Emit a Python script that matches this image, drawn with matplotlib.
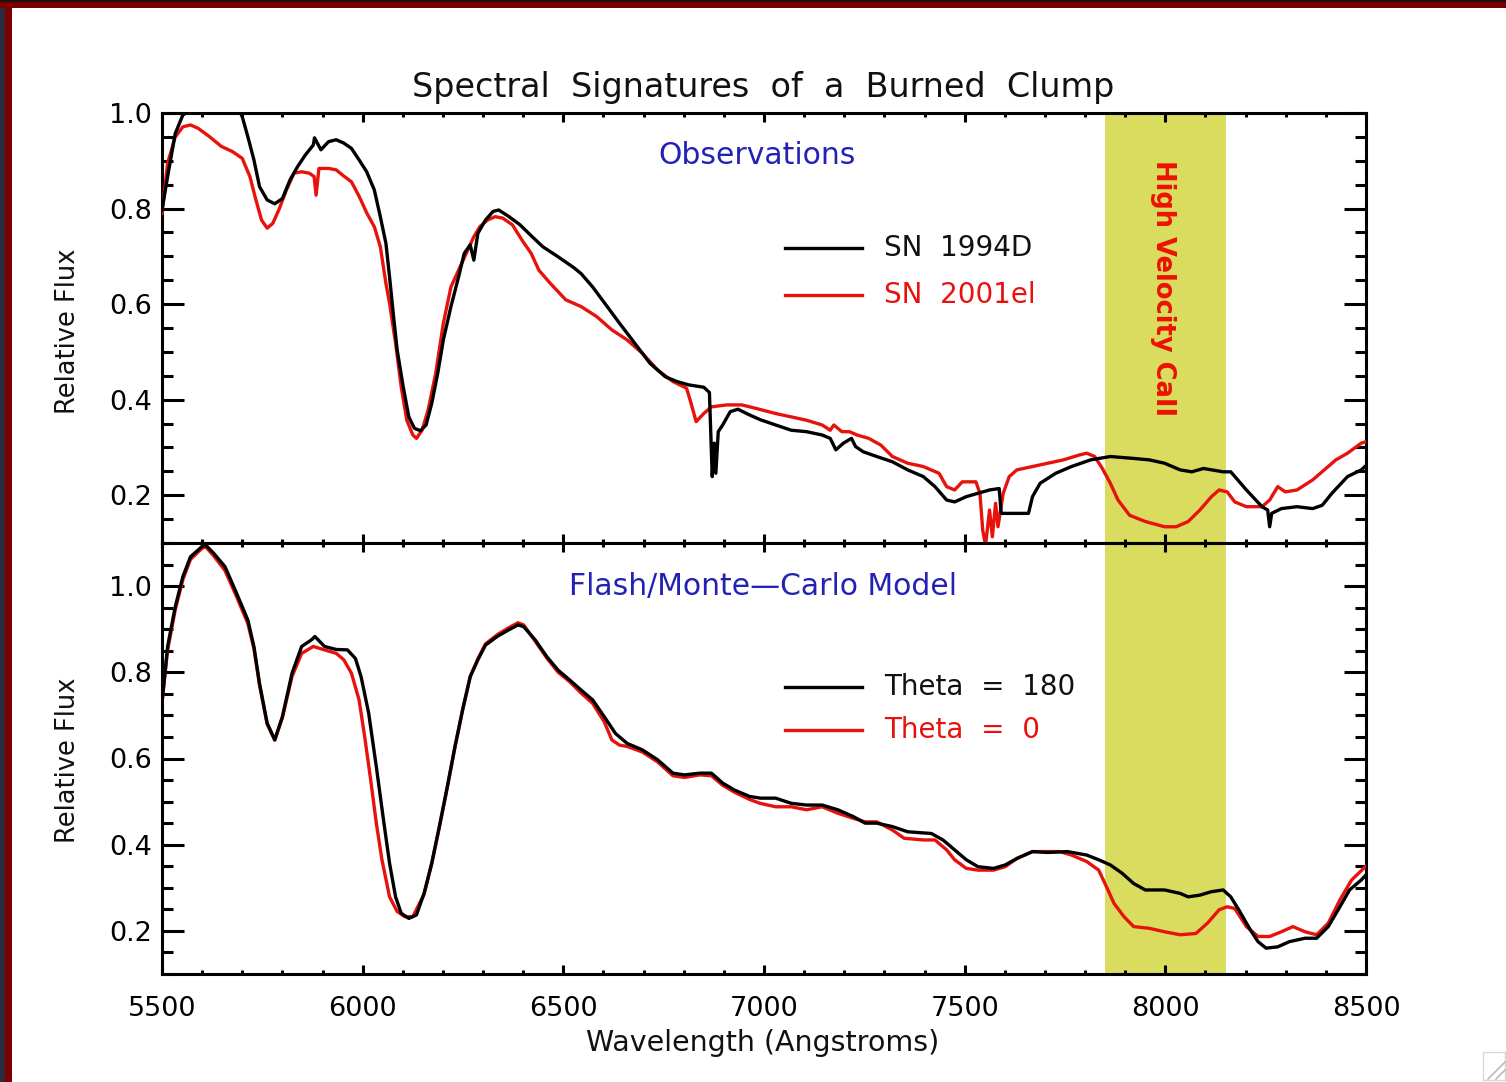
import matplotlib
matplotlib.use("Agg")
import matplotlib.pyplot as plt
from matplotlib.patches import Rectangle
from matplotlib.lines import Line2D
from matplotlib.ticker import MultipleLocator

# ---------------- data ----------------
# Observed spectra (wavelength in Angstroms, relative flux)
wave_1994d = [5500, 5514, 5533, 5552, 5571, 5600, 5630, 5660, 5690, 5700, 5714, 5729, 5743,
              5762, 5781, 5800, 5819, 5838, 5857, 5877, 5880, 5896, 5915, 5934, 5953, 5972,
              5991, 6010, 6029, 6044, 6058, 6067, 6077, 6086, 6101, 6115, 6129, 6144, 6158,
              6172, 6187, 6201, 6220, 6239, 6253, 6268, 6277, 6287, 6306, 6325, 6339, 6363,
              6392, 6420, 6449, 6487, 6525, 6544, 6573, 6602, 6640, 6678, 6716, 6754, 6783,
              6812, 6850, 6864, 6871, 6876, 6880, 6886, 6897, 6916, 6935, 6964, 6991, 7029,
              7068, 7106, 7145, 7165, 7179, 7198, 7218, 7228, 7247, 7281, 7320, 7358, 7397,
              7426, 7455, 7475, 7504, 7533, 7562, 7586, 7591, 7620, 7659, 7669, 7688, 7727,
              7766, 7814, 7863, 7921, 7960, 7998, 8037, 8066, 8095, 8144, 8163, 8202, 8241,
              8255, 8260, 8265, 8289, 8328, 8367, 8391, 8415, 8454, 8488, 8500]
flux_1994d = [0.797, 0.867, 0.957, 0.996, 1.005, 1.020, 1.030, 1.020, 1.010, 0.992, 0.950,
              0.902, 0.846, 0.818, 0.810, 0.821, 0.860, 0.888, 0.912, 0.933, 0.948, 0.923,
              0.940, 0.944, 0.937, 0.926, 0.902, 0.877, 0.839, 0.783, 0.727, 0.657, 0.574,
              0.504, 0.427, 0.364, 0.340, 0.335, 0.347, 0.392, 0.455, 0.525, 0.595, 0.657,
              0.706, 0.724, 0.692, 0.748, 0.776, 0.794, 0.797, 0.784, 0.766, 0.743, 0.720,
              0.699, 0.677, 0.664, 0.636, 0.603, 0.560, 0.518, 0.476, 0.448, 0.438, 0.431,
              0.426, 0.415, 0.239, 0.309, 0.246, 0.333, 0.347, 0.375, 0.380, 0.368, 0.358,
              0.347, 0.336, 0.333, 0.326, 0.319, 0.295, 0.309, 0.319, 0.302, 0.291, 0.281,
              0.270, 0.253, 0.239, 0.218, 0.190, 0.186, 0.197, 0.204, 0.211, 0.214, 0.162,
              0.162, 0.162, 0.197, 0.225, 0.246, 0.260, 0.274, 0.281, 0.277, 0.274, 0.267,
              0.253, 0.249, 0.256, 0.249, 0.249, 0.211, 0.176, 0.169, 0.134, 0.162, 0.172,
              0.176, 0.172, 0.179, 0.204, 0.239, 0.253, 0.262]

wave_2001el = [5500, 5514, 5533, 5552, 5571, 5590, 5619, 5648, 5676, 5700, 5719, 5734, 5748,
               5762, 5776, 5791, 5810, 5829, 5848, 5867, 5879, 5884, 5891, 5915, 5934, 5953,
               5972, 5991, 6010, 6029, 6044, 6058, 6067, 6082, 6096, 6110, 6125, 6134, 6148,
               6163, 6182, 6201, 6220, 6239, 6258, 6277, 6292, 6311, 6330, 6349, 6373, 6397,
               6420, 6439, 6468, 6506, 6544, 6583, 6621, 6659, 6697, 6735, 6773, 6807, 6816,
               6831, 6850, 6869, 6907, 6945, 6974, 7029, 7068, 7106, 7145, 7165, 7174, 7194,
               7213, 7232, 7261, 7291, 7320, 7358, 7397, 7436, 7455, 7475, 7494, 7528, 7538,
               7545, 7552, 7562, 7569, 7577, 7583, 7596, 7611, 7630, 7669, 7707, 7746, 7785,
               7804, 7824, 7843, 7863, 7882, 7911, 7950, 7998, 8027, 8057, 8086, 8115, 8134,
               8154, 8173, 8202, 8241, 8260, 8280, 8299, 8328, 8367, 8396, 8425, 8454, 8488,
               8500]
flux_2001el = [0.790, 0.895, 0.950, 0.971, 0.975, 0.968, 0.950, 0.930, 0.919, 0.905, 0.867,
               0.818, 0.776, 0.759, 0.769, 0.797, 0.839, 0.874, 0.877, 0.874, 0.867, 0.828,
               0.884, 0.884, 0.881, 0.868, 0.856, 0.826, 0.791, 0.762, 0.720, 0.643, 0.602,
               0.518, 0.427, 0.357, 0.326, 0.319, 0.336, 0.378, 0.455, 0.560, 0.636, 0.671,
               0.706, 0.741, 0.762, 0.776, 0.783, 0.780, 0.766, 0.734, 0.706, 0.671, 0.643,
               0.609, 0.595, 0.574, 0.546, 0.525, 0.497, 0.462, 0.438, 0.424, 0.399, 0.354,
               0.371, 0.385, 0.389, 0.389, 0.383, 0.371, 0.364, 0.357, 0.347, 0.336, 0.347,
               0.333, 0.333, 0.326, 0.319, 0.305, 0.281, 0.267, 0.260, 0.246, 0.218, 0.211,
               0.228, 0.228, 0.204, 0.127, 0.095, 0.169, 0.113, 0.183, 0.134, 0.204, 0.239,
               0.253, 0.260, 0.267, 0.274, 0.284, 0.288, 0.281, 0.256, 0.225, 0.190, 0.158,
               0.145, 0.134, 0.134, 0.145, 0.169, 0.197, 0.211, 0.207, 0.186, 0.176, 0.176,
               0.190, 0.218, 0.207, 0.211, 0.232, 0.253, 0.274, 0.288, 0.309, 0.312]

# Model spectra
wave_theta180 = [5500, 5514, 5533, 5552, 5571, 5600, 5609, 5629, 5657, 5686, 5714, 5729, 5743,
                 5762, 5781, 5800, 5824, 5848, 5872, 5881, 5905, 5934, 5962, 5982, 5996, 6015,
                 6034, 6053, 6067, 6082, 6096, 6115, 6134, 6153, 6172, 6191, 6211, 6230, 6249,
                 6268, 6287, 6306, 6335, 6363, 6387, 6401, 6430, 6459, 6487, 6516, 6544, 6573,
                 6602, 6630, 6659, 6697, 6735, 6773, 6802, 6840, 6869, 6897, 6926, 6964, 6991,
                 7029, 7068, 7106, 7145, 7184, 7223, 7252, 7281, 7320, 7358, 7417, 7446, 7475,
                 7504, 7533, 7572, 7601, 7630, 7669, 7707, 7756, 7804, 7834, 7863, 7892, 7921,
                 7950, 7998, 8037, 8057, 8086, 8115, 8144, 8163, 8183, 8212, 8231, 8251, 8280,
                 8309, 8348, 8377, 8406, 8435, 8459, 8488, 8500]
flux_theta180 = [0.730, 0.860, 0.952, 1.022, 1.068, 1.092, 1.095, 1.076, 1.045, 0.983, 0.921,
                 0.860, 0.774, 0.682, 0.643, 0.697, 0.798, 0.860, 0.875, 0.883, 0.860, 0.853,
                 0.852, 0.832, 0.790, 0.705, 0.581, 0.450, 0.357, 0.279, 0.241, 0.229, 0.237,
                 0.287, 0.357, 0.442, 0.535, 0.628, 0.713, 0.790, 0.829, 0.863, 0.883, 0.898,
                 0.910, 0.906, 0.875, 0.836, 0.805, 0.782, 0.759, 0.736, 0.697, 0.658, 0.635,
                 0.620, 0.597, 0.566, 0.562, 0.566, 0.566, 0.543, 0.527, 0.512, 0.508, 0.508,
                 0.496, 0.492, 0.492, 0.481, 0.465, 0.450, 0.450, 0.442, 0.430, 0.426, 0.411,
                 0.388, 0.365, 0.349, 0.345, 0.353, 0.368, 0.384, 0.382, 0.384, 0.376, 0.365,
                 0.353, 0.334, 0.310, 0.295, 0.295, 0.287, 0.279, 0.283, 0.291, 0.295, 0.279,
                 0.249, 0.202, 0.175, 0.160, 0.163, 0.175, 0.183, 0.183, 0.210, 0.256, 0.295,
                 0.318, 0.330]

wave_theta0 = [5500, 5514, 5533, 5552, 5571, 5600, 5609, 5629, 5657, 5686, 5714, 5729, 5743,
               5762, 5781, 5800, 5824, 5848, 5877, 5905, 5934, 5953, 5972, 5991, 6005, 6020,
               6034, 6048, 6067, 6086, 6105, 6125, 6153, 6172, 6191, 6211, 6230, 6249, 6268,
               6287, 6306, 6335, 6363, 6387, 6401, 6430, 6459, 6487, 6516, 6544, 6573, 6602,
               6621, 6640, 6659, 6697, 6735, 6773, 6802, 6840, 6869, 6897, 6926, 6964, 6990,
               7029, 7068, 7106, 7145, 7184, 7223, 7252, 7281, 7320, 7349, 7397, 7426, 7455,
               7475, 7504, 7533, 7572, 7601, 7630, 7669, 7737, 7766, 7804, 7834, 7853, 7872,
               7897, 7921, 7960, 7998, 8037, 8076, 8105, 8134, 8154, 8173, 8202, 8231, 8260,
               8289, 8318, 8348, 8377, 8406, 8435, 8464, 8494, 8500]
flux_theta0 = [0.730, 0.852, 0.945, 1.015, 1.062, 1.088, 1.091, 1.070, 1.036, 0.975, 0.913,
               0.855, 0.770, 0.680, 0.643, 0.695, 0.790, 0.844, 0.860, 0.852, 0.844, 0.829,
               0.798, 0.736, 0.651, 0.550, 0.450, 0.365, 0.279, 0.245, 0.233, 0.233, 0.285,
               0.355, 0.440, 0.533, 0.626, 0.712, 0.790, 0.831, 0.866, 0.887, 0.903, 0.915,
               0.910, 0.872, 0.833, 0.800, 0.778, 0.752, 0.728, 0.685, 0.643, 0.631, 0.628,
               0.615, 0.592, 0.560, 0.556, 0.562, 0.560, 0.538, 0.522, 0.505, 0.496, 0.488,
               0.488, 0.481, 0.488, 0.473, 0.461, 0.453, 0.453, 0.434, 0.415, 0.411, 0.411,
               0.388, 0.365, 0.345, 0.341, 0.341, 0.349, 0.368, 0.384, 0.384, 0.376, 0.361,
               0.341, 0.303, 0.264, 0.233, 0.210, 0.206, 0.198, 0.191, 0.194, 0.218, 0.249,
               0.256, 0.252, 0.210, 0.187, 0.187, 0.198, 0.210, 0.198, 0.191, 0.218, 0.272,
               0.318, 0.345, 0.350]

band_range = (7850, 8150)
x_ticks = [5500, 6000, 6500, 7000, 7500, 8000, 8500]
y_ticks = [0.2, 0.4, 0.6, 0.8, 1.0]

# ---------------- style ----------------
BLACK = "#000000"
RED = "#e8120c"
BLUE = "#2222b4"
BAND = "#d9dc5e"
LW = 2.4
plt.rcParams["font.family"] = ["DejaVu Sans"]

W, H = 1506, 1082
fig = plt.figure(figsize=(W / 100, H / 100), dpi=100, facecolor="white")

# window frame
fig.patches.append(Rectangle((0, 0), 5 / W, 1, transform=fig.transFigure,
                             facecolor="#2c2a3c", edgecolor="none", zorder=0))
fig.patches.append(Rectangle((5 / W, 0), 7 / W, 1, transform=fig.transFigure,
                             facecolor="#7c0000", edgecolor="none", zorder=0))
fig.patches.append(Rectangle((0, 1 - 8 / H), 1, 8 / H, transform=fig.transFigure,
                             facecolor="#7c0000", edgecolor="none", zorder=0))
fig.patches.append(Rectangle((0, 1 - 2 / H), 1, 2 / H, transform=fig.transFigure,
                             facecolor="#1c1010", edgecolor="none", zorder=0))
# resize grip in the corner
fig.patches.append(Rectangle((1483 / W, 2 / H), 22 / W, 28 / H, transform=fig.transFigure,
                             facecolor="none", edgecolor="#d8d8d8", linewidth=1.0))
for k in (0, 8):
    fig.lines.append(Line2D([(1488 + k) / W, 1505 / W], [3 / H, (20 - k) / H],
                            transform=fig.transFigure, color="#bbbbbb", linewidth=1.2))

left = 162 / W
width = (1366 - 162) / W
ax_top = fig.add_axes([left, 1 - 543 / H, width, (543 - 113) / H])
ax_bot = fig.add_axes([left, 1 - 974 / H, width, (974 - 543) / H])


def style_axes(ax, ylim, show_x):
    ax.set_xlim(5500, 8500)
    ax.set_ylim(*ylim)
    ax.set_xticks(x_ticks)
    ax.set_yticks(y_ticks)
    ax.xaxis.set_minor_locator(MultipleLocator(100))
    ax.yaxis.set_minor_locator(MultipleLocator(0.05))
    for s in ax.spines.values():
        s.set_linewidth(2.2)
    ax.tick_params(axis="both", which="both", direction="in", top=True, right=True,
                   width=2.2, colors="black")
    ax.tick_params(axis="y", which="major", length=16, pad=7, labelsize=19.5)
    ax.tick_params(axis="y", which="minor", length=8)
    ax.tick_params(axis="x", which="major", length=6.5, pad=16, labelsize=19.5)
    ax.tick_params(axis="x", which="minor", length=3.2)
    ax.set_yticklabels([f"{v:.1f}" for v in y_ticks])
    if not show_x:
        ax.tick_params(axis="x", labelbottom=False)
    ax.axvspan(*band_range, color=BAND, zorder=0, linewidth=0)


style_axes(ax_top, (0.1, 1.0), False)
style_axes(ax_bot, (0.1, 1.1), True)

# observed spectra
ax_top.plot(wave_2001el, flux_2001el, color=RED, lw=LW, zorder=3)
ax_top.plot(wave_1994d, flux_1994d, color=BLACK, lw=LW, zorder=4)

# model spectra
ax_bot.plot(wave_theta0, flux_theta0, color=RED, lw=LW, zorder=3)
ax_bot.plot(wave_theta180, flux_theta180, color=BLACK, lw=LW, zorder=4)

# panel headings
ax_top.text(6983, 0.912, "Observations", color=BLUE, fontsize=21.5,
            ha="center", va="center")
ax_bot.text(6998, 0.998, "Flash/Monte\u2014Carlo Model", color=BLUE, fontsize=21.5,
            ha="center", va="center")

# legends
def legend_entry(ax, y, label, color):
    ax.plot([7052, 7244], [y, y], color=color, lw=LW)
    ax.text(7299, y, label, color=color if color != BLACK else "#111111",
            fontsize=20, ha="left", va="center")


legend_entry(ax_top, 0.717, "SN  1994D", BLACK)
legend_entry(ax_top, 0.619, "SN  2001el", RED)
legend_entry(ax_bot, 0.766, "Theta  =  180", BLACK)
legend_entry(ax_bot, 0.666, "Theta  =  0", RED)

ax_top.text(7994, 0.634, "High Velocity CaII", color="#ee1100", fontsize=18.5,
            fontweight="bold", rotation=-90, ha="center", va="center")

# titles and axis labels
fig.text(763 / W, 1 - 88 / H, "Spectral  Signatures  of  a  Burned  Clump",
         fontsize=24, ha="center", va="center", color="#111111")
fig.text(763 / W, 1 - 1043 / H, "Wavelength (Angstroms)", fontsize=20.5,
         ha="center", va="center", color="#111111")
fig.text(68 / W, 1 - 331 / H, "Relative Flux", fontsize=18.5, rotation=90,
         ha="center", va="center", color="#111111")
fig.text(68 / W, 1 - 760 / H, "Relative Flux", fontsize=18.5, rotation=90,
         ha="center", va="center", color="#111111")

fig.savefig("out.png", dpi=100, facecolor="white")
